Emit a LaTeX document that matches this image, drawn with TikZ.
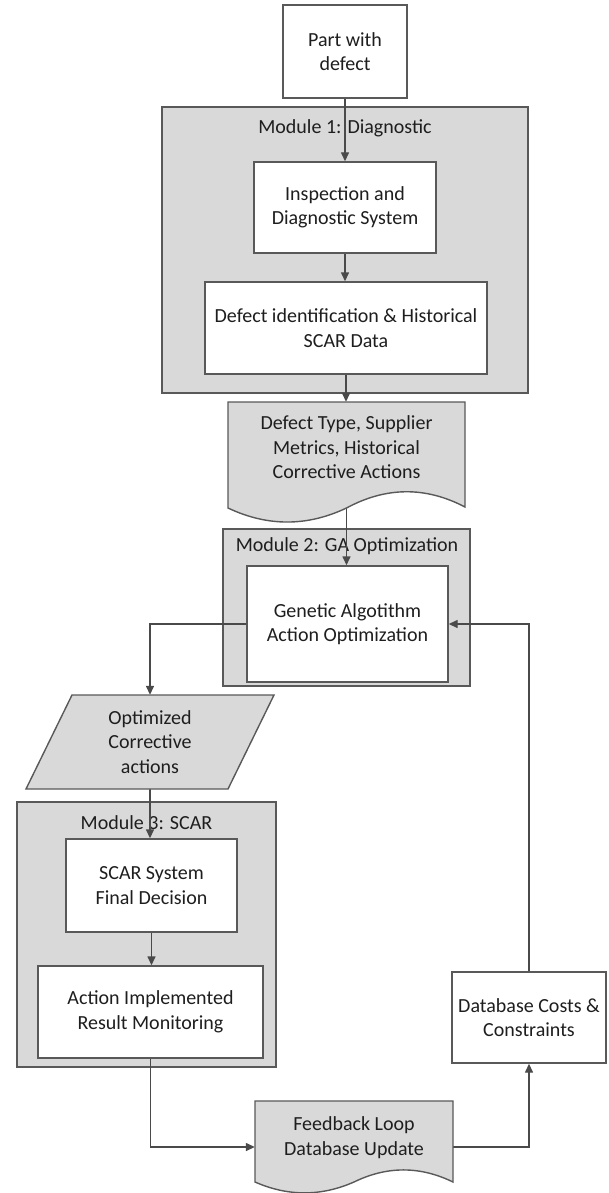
\documentclass[tikz,border=0pt]{standalone}
\usepackage{fontspec}
\setmainfont{Carlito}
\usetikzlibrary{arrows.meta,calc}
\pgfdeclarelayer{back}
\pgfdeclarelayer{mid}
\pgfsetlayers{back,mid,main}
\definecolor{modfill}{HTML}{D9D9D9}
\definecolor{edge}{HTML}{595959}
\definecolor{wire}{HTML}{4A4A4A}
\definecolor{ink}{HTML}{1E1E1E}
\begin{document}
\begin{tikzpicture}[x=1pt,y=-1pt,
  every node/.style={font=\fontsize{20}{24.5}\selectfont, text=ink, inner sep=0pt},
  box/.style={draw=edge, line width=1.4pt, fill=white, align=center},
  module/.style={draw=edge, line width=1.4pt, fill=modfill},
  docshape/.style={draw=edge, line width=1.4pt, fill=modfill},
  conn/.style={draw=wire, line width=1.4pt, -{Triangle[length=9pt,width=8pt]}},
]
\useasboundingbox (0,0) rectangle (608,1193);

% modules (back layer)
\begin{pgfonlayer}{back}
\draw[module] (162,107) rectangle (528,393);
\node (t1) at (345,128) {Module 1: Diagnostic};
\draw[module] (223,529) rectangle (470,686);
\node (t2) at (347,546) {Module 2: GA Optimization};
\draw[module] (17,802) rectangle (276,1067);
\node (t3) at (146.5,823) {Module 3: SCAR};
\end{pgfonlayer}

% boxes
\node[box, minimum width=124, minimum height=93] (part) at (345,51.5) {Part with\\defect};
\node[box, minimum width=182, minimum height=91] (insp) at (345,207.5) {Inspection and\\Diagnostic System};
\node[box, minimum width=282, minimum height=92] (defid) at (346,328) {Defect identification \& Historical\\SCAR Data};

\draw[docshape] (228,402) -- (465,402) -- (465,507)
  .. controls (425.5,486.3) and (386,486.7) .. (346.5,508)
  .. controls (307,526.7) and (267.5,526.7) .. (228,508) -- cycle;
\node[align=center, minimum width=237, minimum height=91] (doc1) at (346.5,447.5) {Defect Type, Supplier\\Metrics, Historical\\Corrective Actions};

\node[box, minimum width=201, minimum height=116] (ga) at (347.5,624) {Genetic Algotithm\\Action Optimization};

\draw[docshape] (72,695) -- (274,695) -- (228,789) -- (26,789) -- cycle;
\node[align=center, minimum height=94] (opt) at (150,742) {Optimized\\Corrective\\actions};

\node[box, minimum width=171, minimum height=93] (scar) at (151.5,885.5) {SCAR System\\Final Decision};
\node[box, minimum width=225, minimum height=92] (act) at (150.5,1012) {Action Implemented\\Result Monitoring};

\draw[docshape] (255,1101) -- (453,1101) -- (453,1182)
  .. controls (420,1165.9) and (387,1165.9) .. (354,1182)
  .. controls (321,1196.5) and (288,1196.5) .. (255,1182) -- cycle;
\node[align=center, minimum width=198] (fb) at (354,1137.5) {Feedback Loop\\Database Update};

\node[box, minimum width=154, minimum height=91] (db) at (529,1017.5) {Database Costs \&\\Constraints};

% connectors (mid layer)
\begin{pgfonlayer}{mid}
\draw[conn] (part.south) -- (insp.north);
\draw[conn] (insp.south) -- (insp.south |- defid.north);
\draw[conn] (defid.south) -- (defid.south |- doc1.north);
\draw[conn] (doc1.south) -- (doc1.south |- ga.north);
\draw[conn] (ga.west) -| (opt.north);
\draw[conn] (opt.south) -- (opt.south |- scar.north);
\draw[conn] (scar.south) -- (scar.south |- act.north);
\draw[conn] (act.south) |- ([yshift=-9.5pt]fb.west);
\draw[conn] ([yshift=-9.5pt]fb.east) -| (db.south);
\draw[conn] (db.north) |- (ga.east);
\end{pgfonlayer}
\end{tikzpicture}
\end{document}
